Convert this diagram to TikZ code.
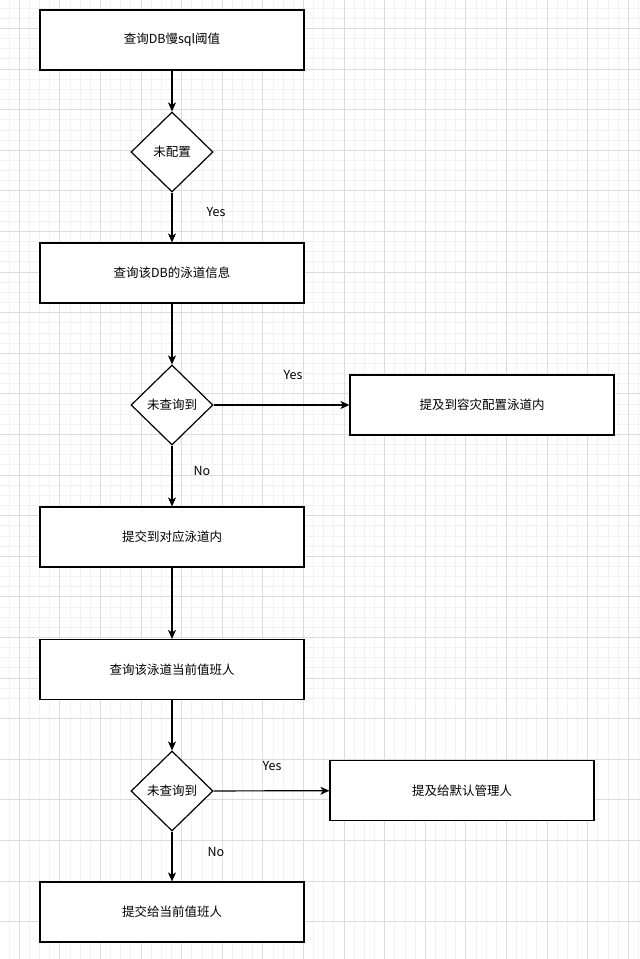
\documentclass[tikz,border=0pt]{standalone}
\usepackage{fontspec}
\setmainfont{Noto Sans CJK SC}
\usetikzlibrary{shapes.geometric,arrows.meta}
\definecolor{minorgrid}{HTML}{F2F2F2}
\definecolor{majorgrid}{HTML}{DCDCDC}
\tikzset{
  stepbox/.style={draw,line width=1.2pt,fill=white,minimum width=264pt,minimum height=60pt,inner sep=0pt},
  askbox/.style={draw,line width=1.2pt,fill=white,diamond,aspect=1,minimum width=82pt,minimum height=80pt,inner sep=0pt},
  flow/.style={line width=1.2pt,-{Stealth[length=9pt,width=8pt,inset=2.5pt]}},
  note/.style={inner sep=0pt}
}
\begin{document}
\begin{tikzpicture}[x=1pt,y=-1pt,font=\fontsize{12.5}{14}\selectfont]
\useasboundingbox (0,0) rectangle (640,959);
\fill[white] (0,0) rectangle (640,959);
\begin{scope}
\clip (0,0) rectangle (640,959);
% grid
\foreach \k in {0,...,70} {
  \draw[minorgrid,line width=0.6pt] (-21.5+10.15*\k,0) -- (-21.5+10.15*\k,959);
  \draw[minorgrid,line width=0.6pt] (0,-12.3+10.15*\k) -- (640,-12.3+10.15*\k);
}
\foreach \k in {0,...,24} {
  \draw[majorgrid,line width=0.7pt] (-21.5+40.6*\k,0) -- (-21.5+40.6*\k,959);
  \draw[majorgrid,line width=0.7pt] (0,-12.3+40.6*\k) -- (640,-12.3+40.6*\k);
}
\end{scope}

\node[stepbox] (b1) at (172,40) {查询DB慢sql阈值};
\node[askbox] (d1) at (172,152) {未配置};
\node[stepbox] (b2) at (172,273) {查询该DB的泳道信息};
\node[askbox] (d2) at (172,405) {未查询到};
\node[stepbox] (r1) at (482,405) {提及到容灾配置泳道内};
\node[stepbox] (b3) at (172,537) {提交到对应泳道内};
\node[stepbox] (b4) at (172,669.5) {查询该泳道当前值班人};
\node[askbox] (d3) at (172,791) {未查询到};
\node[stepbox] (r2) at (462,790.5) {提及给默认管理人};
\node[stepbox] (b5) at (172,912) {提交给当前值班人};

\draw[flow] (b1) -- (d1);
\draw[flow] (d1) -- (b2);
\draw[flow] (b2) -- (d2);
\draw[flow] (d2) -- (r1);
\draw[flow] (d2) -- (b3);
\draw[flow] (b3) -- (b4);
\draw[flow] (b4) -- (d3);
\draw[flow] (d3) -- (r2);
\draw[flow] (d3) -- (b5);

\node[note] (y1) at (216,212) {Yes};
\node[note] (y2) at (293,375) {Yes};
\node[note] (n2) at (202,471) {No};
\node[note] (y3) at (272,766) {Yes};
\node[note] (n3) at (216,852) {No};
\end{tikzpicture}
\end{document}
